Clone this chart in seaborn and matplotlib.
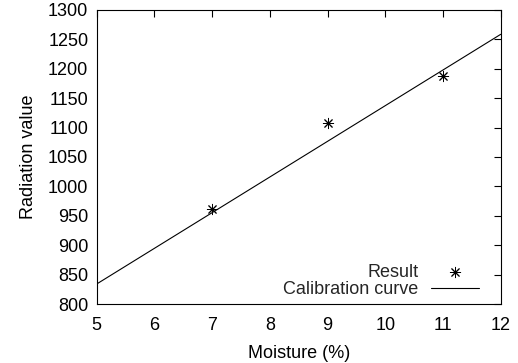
import matplotlib
matplotlib.use("Agg")
import matplotlib.pyplot as plt
import seaborn as sns
import pandas as pd

# Data
moisture = [7, 9, 11]
radiation = [962, 1107, 1187]
curve_x = [5, 12]
curve_y = [834, 1258.6]
x_ticks = [5, 6, 7, 8, 9, 10, 11, 12]
y_ticks = [800, 850, 900, 950, 1000, 1050, 1100, 1150, 1200, 1250, 1300]

sns.set_theme(style="white")
plt.rcParams['font.family'] = ['Liberation Sans', 'DejaVu Sans']

fig = plt.figure(figsize=(5.18, 3.63), dpi=100)
ax = fig.add_axes([0.1866, 0.1625, 0.78, 0.81])

pts = pd.DataFrame({"x": moisture, "y": radiation})
crv = pd.DataFrame({"x": curve_x, "y": curve_y})

sns.scatterplot(data=pts, x="x", y="y", ax=ax, marker=(8, 2, 0), s=55,
                color="black", linewidth=0.7, edgecolor="black", label="Result", zorder=3)
sns.lineplot(data=crv, x="x", y="y", ax=ax, color="black", linewidth=0.8,
             label="Calibration curve")

FS = 13
ax.set_xlim(5, 12)
ax.set_ylim(800, 1300)
ax.set_xticks(x_ticks)
ax.set_yticks(y_ticks)
ax.tick_params(direction="in", length=5, width=0.8, top=True, right=True,
               labelsize=FS, colors="black", pad=6)
ax.tick_params(axis="x", pad=9)
for s in ax.spines.values():
    s.set_color("black")
    s.set_linewidth(0.8)
ax.set_xlabel("Moisture (%)", fontsize=FS, color="black", labelpad=8)
ax.set_ylabel("Radiation value", fontsize=FS, color="black", labelpad=8)

leg = ax.legend(loc="lower right", bbox_to_anchor=(1 - 22 / 404, 6 / 294),
                frameon=False, markerfirst=False, fontsize=FS,
                handlelength=2.66, borderaxespad=0, borderpad=0,
                labelspacing=0.02, handletextpad=0.67)

fig.savefig("out.png", dpi=100)
